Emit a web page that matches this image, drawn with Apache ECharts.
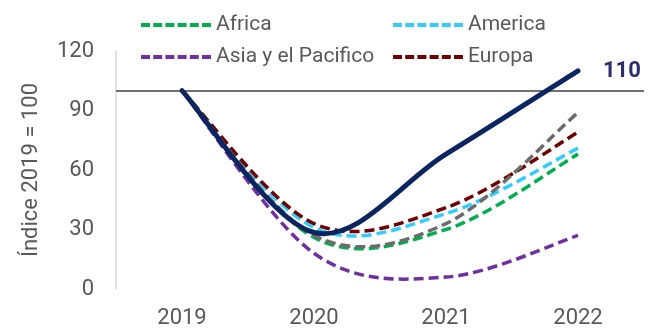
<!DOCTYPE html>
<html>
<head>
<meta charset="utf-8">
<script src="https://cdn.jsdelivr.net/npm/echarts@6/dist/echarts.min.js"></script>
<style>
  html, body { margin: 0; padding: 0; background: #fff; }
  #chart { width: 660px; height: 330px; }
</style>
</head>
<body>
<div id="chart"></div>
<script>
// categories
const years = ["2019", "2020", "2021", "2022"];

// series values (index 2019 = 100)
const africa = [100, 26, 30, 68];
const america = [100, 31, 38, 71];
const asia = [100, 18, 6, 27];
const europa = [100, 33, 41, 79];
const oriente = [100, 27, 33, 89];
const mundo = [100, 28.5, 68, 110];

// y ticks
const y_min = 0;
const y_max = 120;
const y_step = 30;
const ref_value = 100;

const chart = echarts.init(document.getElementById("chart"));

const font = "Roboto, 'Noto Sans', sans-serif";
const text_color = "#595959";

// dashed legend icon (70 x 4)
const dash_icon =
  "path://M0,0h9v4h-9z M12.2,0h9v4h-9z M24.4,0h9v4h-9z M36.6,0h9v4h-9z M48.8,0h9v4h-9z M61,0h9v4h-9z";

// smooth path like a spreadsheet smoothed line (catmull-rom through the points)
const smooth_path = (pts) => {
  let d = "M" + pts[0][0] + "," + pts[0][1];
  for (let i = 0; i < pts.length - 1; i++) {
    const p0 = pts[i - 1] || pts[i];
    const p1 = pts[i];
    const p2 = pts[i + 1];
    const p3 = pts[i + 2] || p2;
    const c1 = [p1[0] + (p2[0] - p0[0]) / 6, p1[1] + (p2[1] - p0[1]) / 6];
    const c2 = [p2[0] - (p3[0] - p1[0]) / 6, p2[1] - (p3[1] - p1[1]) / 6];
    d += " C" + c1.join(",") + " " + c2.join(",") + " " + p2.join(",");
  }
  return d;
};

// one custom series per line, drawn once from all its points
const curve = (name, values, color, opts) => ({
  name: name,
  type: "custom",
  coordinateSystem: "cartesian2d",
  data: values.map((v, i) => [i, v]),
  itemStyle: { color: color },
  z: opts.z || 2,
  renderItem: (params, api) => {
    if (params.dataIndex !== 0) return null;
    const pts = values.map((v, i) => api.coord([i, v]));
    const children = [
      {
        type: "path",
        shape: { pathData: smooth_path(pts) },
        style: {
          fill: null,
          stroke: color,
          lineWidth: opts.width,
          lineDash: opts.dash || null,
          lineCap: opts.dash ? "butt" : "round",
        },
      },
    ];
    if (opts.end_label) {
      const end = pts[pts.length - 1];
      children.push({
        type: "text",
        x: end[0] + 25,
        y: end[1] + 1,
        style: {
          text: String(values[values.length - 1]),
          fill: "#2b2d6e",
          font: "bold 22px " + font,
          align: "left",
          verticalAlign: "middle",
        },
      });
    }
    return { type: "group", children: children };
  },
});

const legend_style = {
  orient: "vertical",
  top: 8,
  itemWidth: 70,
  itemHeight: 4,
  itemGap: 8,
  selectedMode: false,
  textStyle: { color: text_color, fontSize: 21, lineHeight: 24, fontFamily: font },
};

const dashed = { width: 3.5, dash: [10, 5] };

const series = [
  curve("Africa", africa, "#00b050", dashed),
  curve("America", america, "#33ccff", dashed),
  curve("Asia y el Pacifico", asia, "#7030a0", dashed),
  curve("Europa", europa, "#700000", dashed),
  curve("Oriente Medio", oriente, "#6b6b6b", dashed),
  curve("Mundo", mundo, "#0b2560", { width: 5, z: 5, end_label: true }),
];

// reference line at 100
series[5].markLine = {
  silent: true,
  symbol: "none",
  label: { show: false },
  lineStyle: { color: "#707070", width: 2, type: "solid" },
  data: [{ yAxis: ref_value }],
};

chart.setOption({
  backgroundColor: "#fff",
  animation: false,
  textStyle: { fontFamily: font },
  legend: [
    Object.assign({}, legend_style, {
      left: 136,
      data: [
        { name: "Africa", icon: dash_icon },
        { name: "Asia y el Pacifico", icon: dash_icon },
      ],
    }),
    Object.assign({}, legend_style, {
      left: 388,
      data: [
        { name: "America", icon: dash_icon },
        { name: "Europa", icon: dash_icon },
      ],
    }),
  ],
  grid: { left: 116, right: 16, top: 51, bottom: 41, containLabel: false },
  xAxis: {
    type: "category",
    data: years,
    boundaryGap: true,
    axisLine: { show: false },
    axisTick: { show: false },
    axisLabel: { color: text_color, fontSize: 22, margin: 18, fontFamily: font },
  },
  yAxis: {
    type: "value",
    min: y_min,
    max: y_max,
    interval: y_step,
    name: "Índice 2019 = 100",
    nameLocation: "middle",
    nameGap: 74,
    nameTextStyle: { color: text_color, fontSize: 22, fontFamily: font },
    axisLine: { show: true, lineStyle: { color: "#d9d9d9", width: 1.5 } },
    axisTick: { show: false },
    splitLine: { show: false },
    axisLabel: { color: text_color, fontSize: 22, margin: 22, fontFamily: font },
  },
  series: series,
});
</script>
</body>
</html>
